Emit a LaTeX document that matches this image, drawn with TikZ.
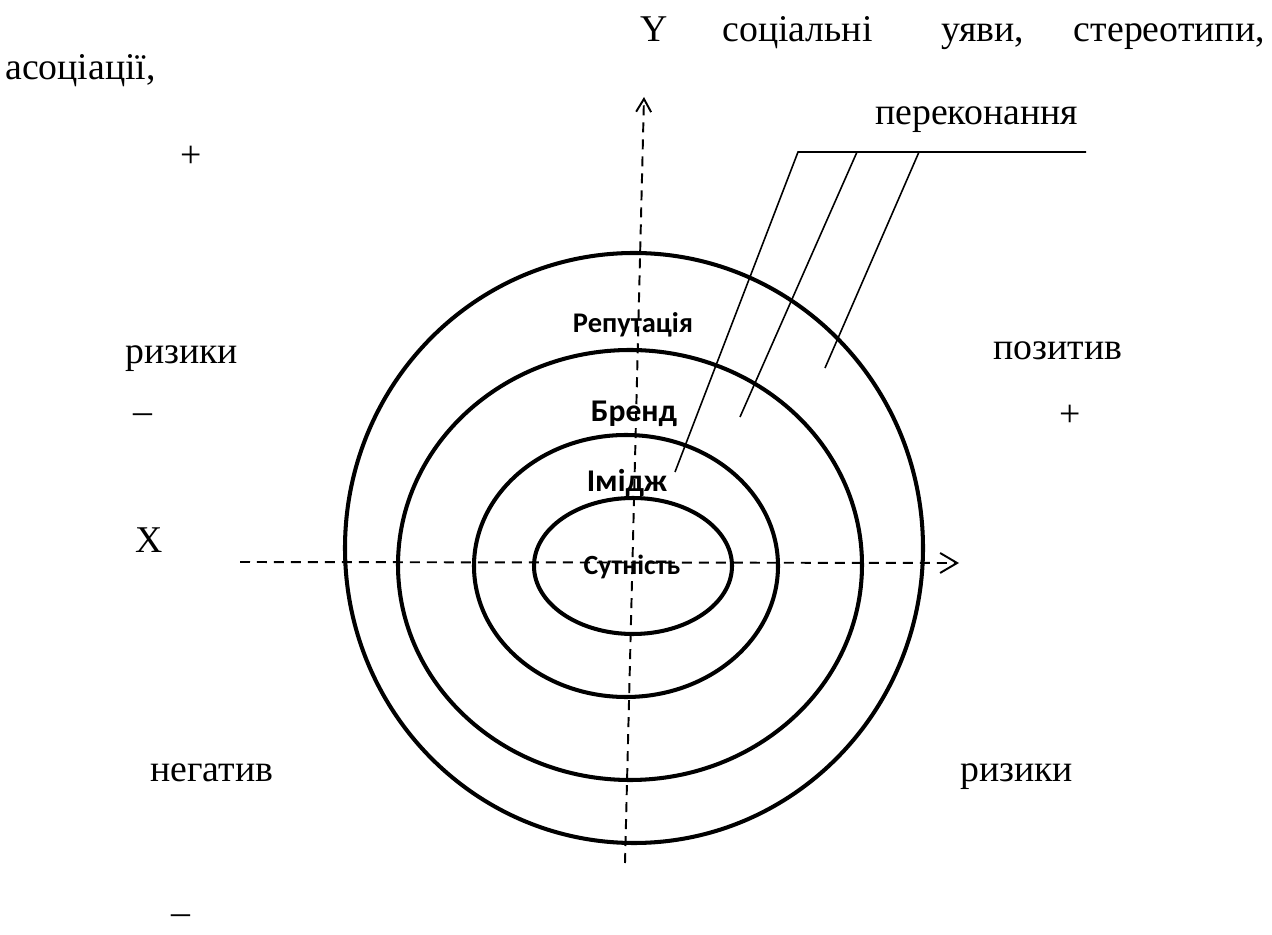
\documentclass[tikz,border=0pt]{standalone}
\usepackage{fontspec}
\setmainfont{Liberation Serif}
\newfontfamily\ringfont{Carlito}
\usetikzlibrary{arrows.meta}

\begin{document}
\begin{tikzpicture}[
    x=0.02cm, y=-0.02cm,
    >={Straight Barb[length=0.34cm, width=0.4cm]},
    lbl/.style={inner sep=0pt, font=\fontsize{21.5}{26}\selectfont},
    ringlbl/.style={inner sep=0pt, font=\ringfont\bfseries\fontsize{#1}{20}\selectfont},
    ring/.style={line width=2.3pt},
    axis/.style={line width=1.1pt, dash pattern=on 0.2cm off 0.14cm},
    leader/.style={line width=0.9pt}
  ]
    \useasboundingbox (0,0) rectangle (1272,935);

    \draw[ring] (634,548) ellipse [x radius=289, y radius=295];
    \draw[ring] (630,565) ellipse [x radius=232, y radius=215];
    \draw[ring] (626,566) ellipse [x radius=152, y radius=131];
    \draw[ring] (633,566) ellipse [x radius=99, y radius=68];

    \coordinate (xa) at (240,562);
    \coordinate (xb) at (959,563);
    \coordinate (ya) at (625,863);
    \coordinate (yb) at (644,97);
    \draw[axis, ->] (xa) -- (xb);
    \draw[axis, -{Straight Barb[length=0.26cm, width=0.3cm]}] (ya) -- (yb);

    \node[ringlbl=16.2, anchor=base] (rep) at (633,333) {Репутація};
    \node[ringlbl=18, anchor=base] (brand) at (634,422) {Бренд};
    \node[ringlbl=18, anchor=base] (imidj) at (627,492) {Імідж};
    \node[ringlbl=15.8, anchor=base] (sut) at (632,575) {Сутність};

    \coordinate (l1) at (798,152);
    \coordinate (l2) at (857,152);
    \coordinate (l3) at (919,152);
    \coordinate (lend) at (1086,152);
    \coordinate (e1) at (675,472);
    \coordinate (e2) at (740,417);
    \coordinate (e3) at (825,368);
    \draw[leader] (lend) -- (l1) -- (e1);
    \draw[leader] (l2) -- (e2);
    \draw[leader] (l3) -- (e3);

    \node[lbl, anchor=base west] (ylab) at (640,42) {Y};
    \node[lbl, anchor=base west] (w1) at (722,42) {соціальні};
    \node[lbl, anchor=base west] (w2) at (941,42) {уяви,};
    \node[lbl, anchor=base east] (w3) at (1265,42) {стереотипи,};
    \node[lbl, anchor=base west] (w4) at (5,80) {асоціації,};
    \node[lbl, anchor=base west] (perek) at (875,125) {переконання};

    \node[lbl] (plustop) at (191,157) {+};
    \node[lbl, anchor=base west] (riskl) at (125,364) {ризики};
    \node[lbl, anchor=base] (minusl) at (143,424) {–};
    \node[lbl, anchor=base west] (xlab) at (135,553) {X};
    \node[lbl, anchor=base west] (neg) at (150,782) {негатив};
    \node[lbl, anchor=base] (minusb) at (181,924) {–};

    \node[lbl, anchor=base west] (poz) at (993,360) {позитив};
    \node[lbl] (plusr) at (1070,416) {+};
    \node[lbl, anchor=base west] (riskr) at (960,782) {ризики};
  \end{tikzpicture}
\end{document}
